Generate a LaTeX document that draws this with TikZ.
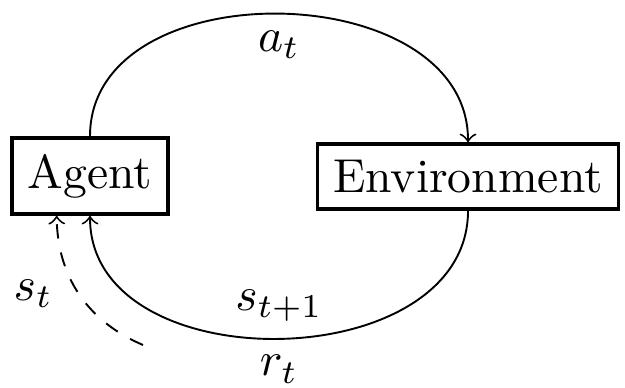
\documentclass[tikz,border=0pt]{standalone}
\begin{document}
\begin{tikzpicture}[x=0.21pt,y=0.21pt,>=to,
  box/.style={draw, line width=0.8pt}]
\useasboundingbox (0,0) rectangle (625,-387);
\node[box] (agent) at (90,-176) {Agent};
\node[box] (env) at (468,-176.5) {Environment};
\coordinate (rstart) at (143,-345);
\draw[->] (agent.north) to[out=90,in=90,looseness=1.13] node[below] {$a_t$} (env.north);
\draw[->] (env.south) to[out=-90,in=-90,looseness=1.13] node[above] {$s_{t+1}$} node[below] {$r_t$} (agent.south);
\draw[->,dashed] (rstart) to[bend left=33] node[left,xshift=-2pt] {$s_t$} ([xshift=-7pt]agent.south);
\end{tikzpicture}
\end{document}
